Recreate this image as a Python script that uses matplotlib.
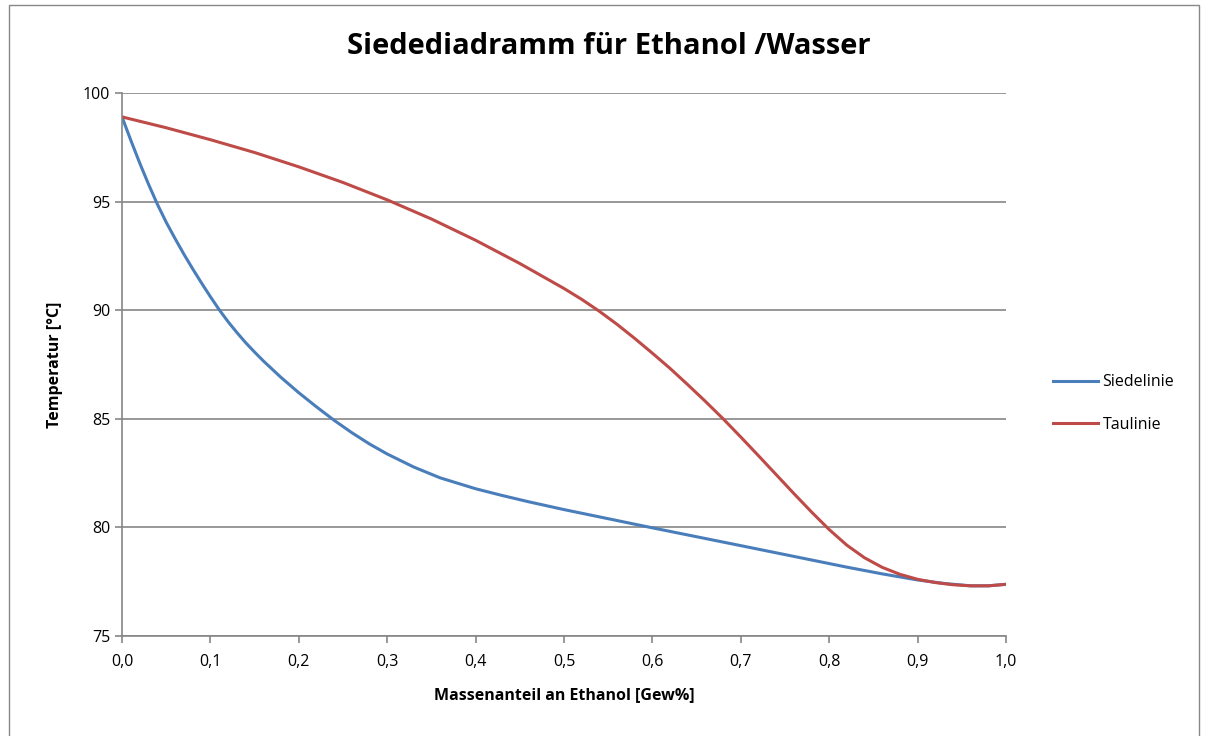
import matplotlib.pyplot as plt
from matplotlib.patches import Rectangle

# Siedelinie (boiling line)
siede_x = [0.00, 0.01, 0.02, 0.03, 0.04, 0.05, 0.06, 0.07, 0.08, 0.09, 0.10, 0.11, 0.12,
           0.13, 0.14, 0.15, 0.16, 0.18, 0.20, 0.22, 0.24, 0.26, 0.28, 0.30, 0.33, 0.36,
           0.40, 0.43, 0.46, 0.50, 0.55, 0.60, 0.65, 0.70, 0.74, 0.78, 0.82, 0.86, 0.90,
           0.93, 0.96, 0.98, 1.00]
siede_t = [98.90, 97.82, 96.78, 95.80, 94.88, 94.05, 93.30, 92.58, 91.90, 91.25, 90.62, 90.02,
           89.47, 88.97, 88.50, 88.07, 87.66, 86.90, 86.20, 85.55, 84.93, 84.36, 83.84, 83.38,
           82.78, 82.28, 81.78, 81.47, 81.18, 80.82, 80.40, 79.98, 79.57, 79.16, 78.83,
           78.50, 78.17, 77.86, 77.58, 77.42, 77.31, 77.31, 77.38]

# Taulinie (dew line)
tau_x = [0.00, 0.05, 0.10, 0.15, 0.20, 0.25, 0.30, 0.35, 0.40, 0.45, 0.50, 0.52, 0.54,
         0.56, 0.58, 0.60, 0.62, 0.64, 0.66, 0.68, 0.70, 0.72, 0.74, 0.76, 0.78, 0.80,
         0.82, 0.84, 0.86, 0.88, 0.90, 0.92, 0.94, 0.96, 0.98, 1.00]
tau_t = [98.90, 98.40, 97.85, 97.26, 96.60, 95.88, 95.08, 94.20, 93.22, 92.15, 91.00, 90.50,
         89.95, 89.35, 88.70, 88.02, 87.32, 86.57, 85.80, 85.00, 84.16, 83.30, 82.43, 81.56,
         80.71, 79.90, 79.18, 78.60, 78.16, 77.84, 77.61, 77.46, 77.36, 77.31, 77.31, 77.38]

x_ticks = [0.0, 0.1, 0.2, 0.3, 0.4, 0.5, 0.6, 0.7, 0.8, 0.9, 1.0]
y_ticks = [75, 80, 85, 90, 95, 100]

plt.rcParams['font.family'] = ['Open Sans', 'DejaVu Sans']

fig = plt.figure(figsize=(12.07, 7.36), dpi=100)
ax = fig.add_axes([122 / 1207, 1 - 636 / 736, 884 / 1207, 543 / 736])

ax.plot(siede_x, siede_t, color='#4A7EBB', lw=2.2, label='Siedelinie')
ax.plot(tau_x, tau_t, color='#BE4B48', lw=2.2, label='Taulinie')

ax.set_xlim(0, 1)
ax.set_ylim(75, 100)
ax.set_xticks(x_ticks)
ax.set_xticklabels([f'{v:.1f}'.replace('.', ',') for v in x_ticks])
ax.set_yticks(y_ticks)
ax.grid(axis='y', color='#868686', lw=1.2)
ax.set_axisbelow(True)
for s in ['top', 'right']:
    ax.spines[s].set_visible(False)
for s in ['left', 'bottom']:
    ax.spines[s].set_color('#868686')
    ax.spines[s].set_linewidth(1.2)
ax.tick_params(colors='#868686', labelcolor='black', labelsize=11.5, length=5, width=1.2)
ax.tick_params(axis='x', pad=8)

ax.set_xlabel('Massenanteil an Ethanol [Gew%]', fontsize=11.5, fontweight='bold', labelpad=12)
ax.set_ylabel('Temperatur [°C]', fontsize=11.5, fontweight='bold', labelpad=14)
fig.text(609 / 1207, 1 - 46 / 736, 'Siedediadramm für Ethanol /Wasser',
         ha='center', va='center', fontsize=21, fontweight='bold')

ax.legend(loc='center left', bbox_to_anchor=(1.037, 0.428), frameon=False, fontsize=11.5,
          handlelength=2.8, handletextpad=0.3, labelspacing=1.65)

fig.patches.append(Rectangle((9 / 1207, -0.01), 1190 / 1207, 1 - 5 / 736 + 0.01,
                             transform=fig.transFigure, fill=False, edgecolor='#888888', lw=1))

fig.savefig('out.png', dpi=100)
